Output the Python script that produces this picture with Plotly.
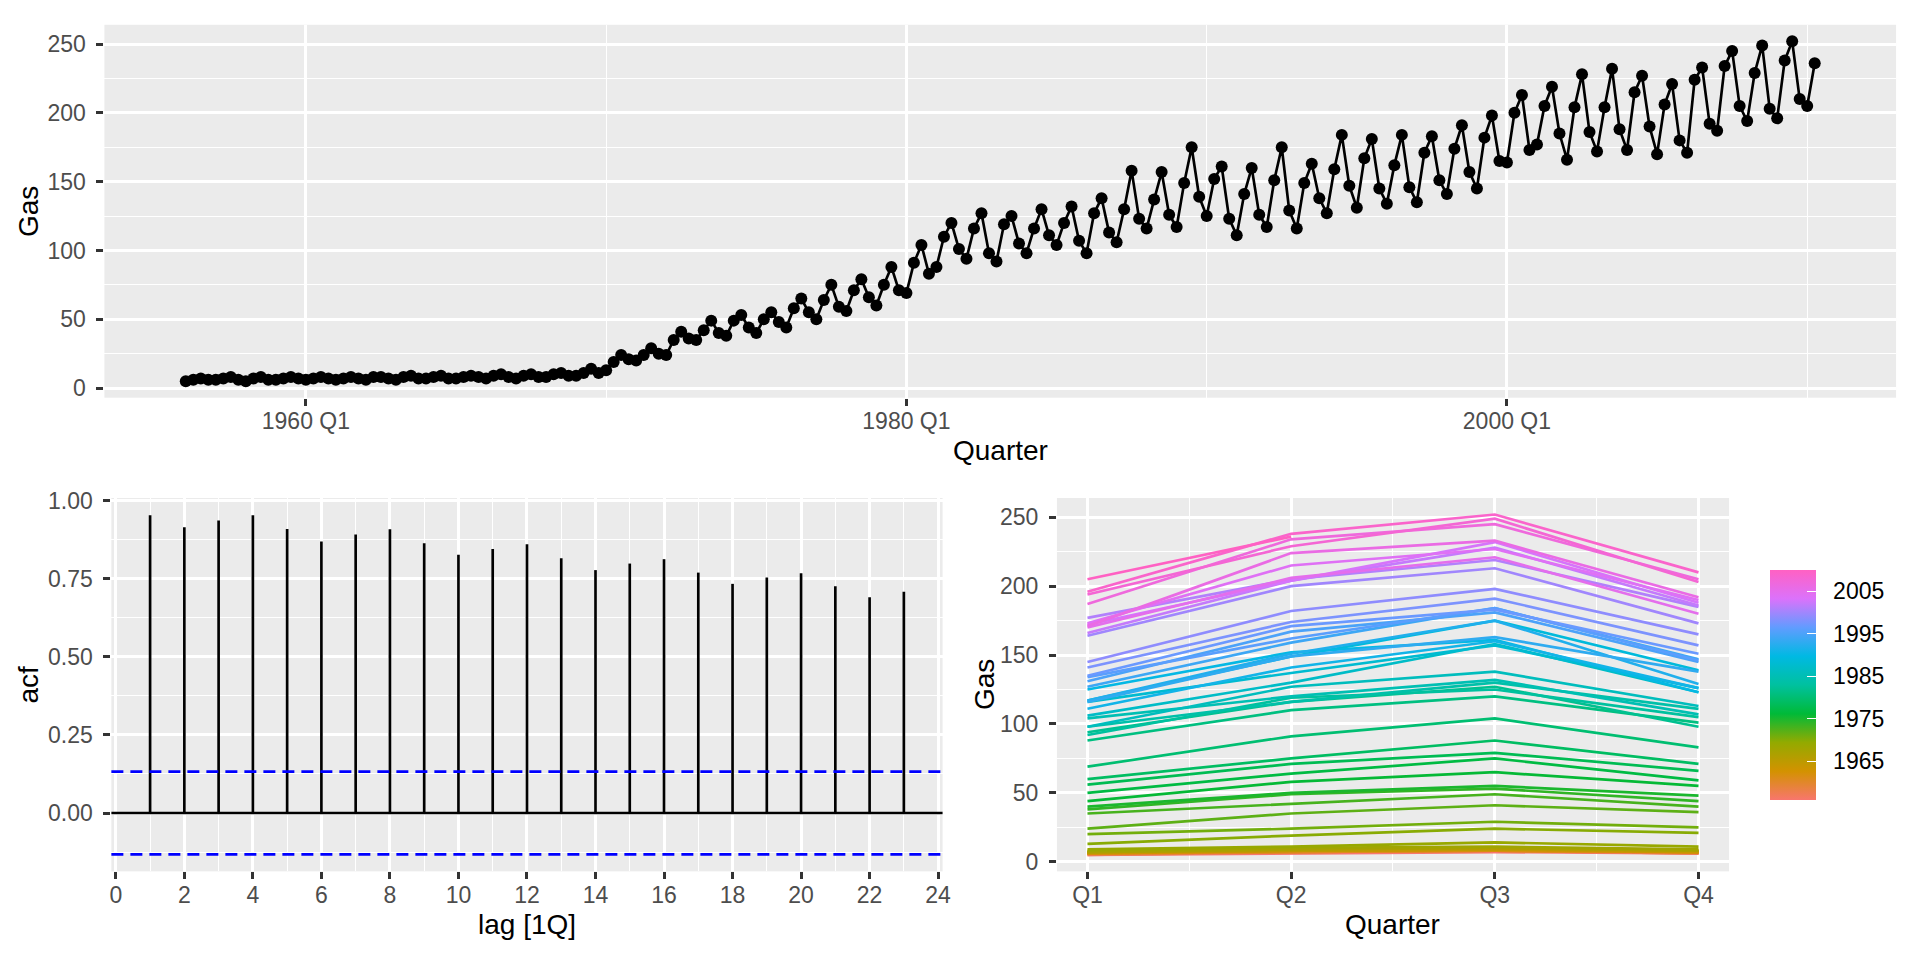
import plotly.graph_objects as go
from plotly.colors import sample_colorscale

# ---------------- data ----------------
start_year = 1956
quarter_labels = ["Q1", "Q2", "Q3", "Q4"]
gas = [
    5, 6, 7, 6,      6, 7, 8, 6,      5, 7, 8, 6,      6, 7, 8, 7,
    6, 7, 8, 7,      6, 7, 8, 7,      6, 8, 8, 7,      6, 8, 9, 7,
    7, 8, 9, 7,      7, 8, 9, 8,      7, 9, 10, 8,     7, 9, 10, 8,
    8, 10, 11, 9,    9, 11, 14, 11,   13, 19, 24, 21,  20, 24, 29, 25,
    24, 35, 41, 36,  35, 42, 49, 40,  38, 49, 53, 44,  40, 50, 55, 48,
    44, 58, 65, 55,  50, 64, 75, 59,  56, 71, 79, 66,  60, 75, 88, 71,
    69, 91, 104, 83, 88, 110, 120, 101, 94, 116, 127, 98, 92, 119, 125, 105,
    98, 116, 130, 111, 104, 120, 132, 107, 98, 127, 138, 113, 106, 130, 158, 123,
    116, 137, 157, 126, 117, 149, 175, 139, 125, 152, 161, 123, 111, 141, 160, 126,
    117, 151, 175, 129, 116, 149, 163, 138, 127, 159, 184, 147, 131, 167, 181, 145,
    134, 162, 184, 146, 135, 171, 183, 151, 141, 174, 191, 157, 145, 182, 198, 165,
    164, 200, 213, 173, 177, 205, 219, 185, 166, 204, 228, 186, 172, 204, 232, 188,
    173, 215, 227, 190, 170, 206, 221, 180, 171, 224, 233, 192, 187, 234, 245, 205,
    194, 229, 249, 203, 196, 238, 252, 210, 205, 236,
]
top_tick_years = [1960, 1980, 2000]
top_tick_text = ["1960 Q1", "1980 Q1", "2000 Q1"]

acf_lags = list(range(1, 24))
acf_values = [0.954, 0.915, 0.937, 0.954, 0.910, 0.870, 0.892, 0.909, 0.864,
              0.827, 0.846, 0.861, 0.816, 0.778, 0.799, 0.813, 0.770, 0.734,
              0.754, 0.768, 0.726, 0.691, 0.709]
acf_ci = 0.1327

year_ticks = [1965, 1975, 1985, 1995, 2005]
hue_colours = ["#F8766D", "#D39200", "#93AA00", "#00BA38", "#00C19F",
               "#00B9E3", "#619CFF", "#DB72FB", "#FF61C3"]

# ---------------- derived ----------------
W, H = 1920, 960
time_x = [start_year + i / 4 for i in range(len(gas))]
years = sorted(set(start_year + i // 4 for i in range(len(gas))))
ymin, ymax = years[0], years[-1]
colorscale = [[k / (len(hue_colours) - 1), c] for k, c in enumerate(hue_colours)]

def px_dom_x(a, b):
    return [a / W, b / W]

def px_dom_y(top, bottom):
    return [1 - bottom / H, 1 - top / H]

FONT = "Liberation Sans, Arial, Helvetica, sans-serif"
TICKFONT = dict(family=FONT, size=23, color="#4D4D4D")
GRID_W = 2.67
MINOR_W = 1.33

def axis_style(standoff, **kw):
    d = dict(showgrid=True, gridcolor="white", gridwidth=GRID_W, zeroline=False,
             showline=False, ticks="outside", ticklen=7, tickwidth=GRID_W,
             tickcolor="#333333", tickfont=TICKFONT, ticklabelstandoff=standoff,
             layer="below traces")
    d.update(kw)
    return d

fig = go.Figure()

# ---- top: time series ----
fig.add_trace(go.Scatter(
    x=time_x, y=gas, mode="lines+markers", xaxis="x", yaxis="y",
    line=dict(color="black", width=2.67),
    marker=dict(color="black", size=12), hoverinfo="x+y"))

# ---- bottom-left: ACF ----
seg_x, seg_y = [], []
for lag, v in zip(acf_lags, acf_values):
    seg_x += [lag, lag, None]
    seg_y += [0, v, None]
fig.add_trace(go.Scatter(x=seg_x, y=seg_y, mode="lines", xaxis="x2", yaxis="y2",
                         line=dict(color="black", width=2.67), hoverinfo="skip"))

# ---- bottom-right: seasonal plot ----
for yr in years:
    vals = [gas[i] for i in range(len(gas)) if start_year + i // 4 == yr]
    col = sample_colorscale(colorscale, [(yr - ymin) / (ymax - ymin)])[0]
    fig.add_trace(go.Scatter(
        x=list(range(1, len(vals) + 1)), y=vals, mode="lines",
        xaxis="x3", yaxis="y3", line=dict(color=col, width=2.67),
        name=str(yr), hoverinfo="name+y"))

# colourbar carriers (labels + white inner ticks)
cbar_common = dict(
    x=1778 / W, xanchor="left", y=1 - 684 / H, yanchor="middle",
    len=230, lenmode="pixels", thickness=46, thicknessmode="pixels",
    outlinewidth=0, xpad=0, ypad=0, tickvals=year_ticks,
)
cbar_labels = dict(cbar_common, ticks="outside", ticklen=13, tickcolor="white",
                   tickwidth=1,
                   tickfont=dict(family=FONT, size=23, color="black"))
cbar_ticks = dict(cbar_common, ticks="inside", ticklen=9, tickcolor="white",
                  tickwidth=1.4, showticklabels=False)
for cb in (cbar_labels, cbar_ticks):
    fig.add_trace(go.Scatter(
        x=[2.5, 2.5], y=[100, 100], mode="markers", xaxis="x3", yaxis="y3",
        hoverinfo="skip",
        marker=dict(size=1, opacity=0, color=[ymin, ymax], cmin=ymin, cmax=ymax,
                    colorscale=colorscale, showscale=True, colorbar=cb),
    ))

# ---------------- layout ----------------
top_dom_x = px_dom_x(103, 1905)
top_dom_y = px_dom_y(15, 393)
acf_dom_x = px_dom_x(110, 946)
bot_dom_y = px_dom_y(494.7, 873.2)
sea_dom_x = px_dom_x(1061, 1737)

def minor(vals):
    return dict(tickvals=vals, showgrid=True, gridcolor="white",
                gridwidth=MINOR_W, ticks="")

XS, YS = -4, 6
fig.update_layout(
    width=W, height=H, margin=dict(l=0, r=0, t=0, b=0),
    paper_bgcolor="white", plot_bgcolor="#EBEBEB", showlegend=False,
    font=dict(family=FONT),
    xaxis=axis_style(XS, domain=top_dom_x, anchor="y", range=[1953.29, 2012.96],
                     tickvals=top_tick_years, ticktext=top_tick_text,
                     minor=minor([1970, 1990, 2010])),
    yaxis=axis_style(YS, domain=top_dom_y, anchor="x", range=[-7, 264],
                     tickvals=[0, 50, 100, 150, 200, 250],
                     minor=minor([25, 75, 125, 175, 225])),
    xaxis2=axis_style(XS, domain=acf_dom_x, anchor="y2", range=[-0.13, 24.13],
                      tickvals=list(range(0, 25, 2)),
                      minor=minor(list(range(1, 24, 2)))),
    yaxis2=axis_style(YS, domain=bot_dom_y, anchor="x2", range=[-0.187, 1.009],
                      tickvals=[0, 0.25, 0.5, 0.75, 1.0],
                      ticktext=["0.00", "0.25", "0.50", "0.75", "1.00"],
                      minor=minor([-0.125, 0.125, 0.375, 0.625, 0.875])),
    xaxis3=axis_style(XS, domain=sea_dom_x, anchor="y3", range=[0.85, 4.15],
                      tickvals=[1, 2, 3, 4], ticktext=quarter_labels,
                      minor=minor([1.5, 2.5, 3.5])),
    yaxis3=axis_style(YS, domain=bot_dom_y, anchor="x3", range=[-7, 264],
                      tickvals=[0, 50, 100, 150, 200, 250],
                      minor=minor([25, 75, 125, 175, 225])),
)

# ACF reference lines
fig.add_shape(type="line", xref="x2 domain", yref="y2", x0=0, x1=1, y0=0, y1=0,
              line=dict(color="black", width=2.67))
for s in (1, -1):
    fig.add_shape(type="line", xref="x2 domain", yref="y2", x0=0, x1=1,
                  y0=s * acf_ci, y1=s * acf_ci,
                  line=dict(color="#0000FF", width=2.67, dash="12px,7px"))

# axis titles
TITLEFONT = dict(family=FONT, size=28, color="black")

def title(text, x, y, angle=0):
    fig.add_annotation(text=text, x=x / W, y=1 - y / H, xref="paper", yref="paper",
                       showarrow=False, textangle=angle, font=TITLEFONT,
                       xanchor="center", yanchor="middle")

title("Gas", 26, 204, -90)
title("Quarter", 1004, 447)
title("acf", 27, 684, -90)
title("lag [1Q]", 528, 927)
title("Gas", 988, 684, -90)
title("Quarter", 1399, 927)

fig.write_html("out.html",
               config={"displayModeBar": False},
               post_script="document.body.style.margin='0px';"
                           "document.body.style.overflow='hidden';")
